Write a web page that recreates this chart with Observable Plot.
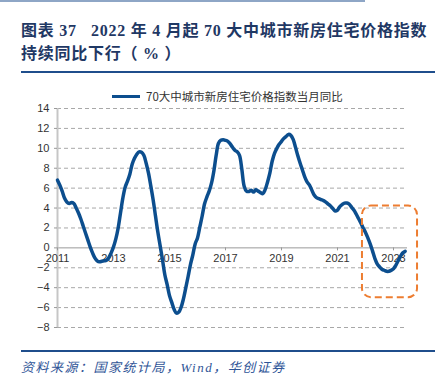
<!DOCTYPE html>
<html><head><meta charset="utf-8">
<script src="https://cdn.jsdelivr.net/npm/d3@7"></script>
<script src="https://cdn.jsdelivr.net/npm/@observablehq/plot@0.6"></script>
<style>
body{margin:0;background:#fff;width:444px;height:390px;position:relative;overflow:hidden;font-family:"Liberation Sans",Arial,sans-serif}
#toprule{position:absolute;left:0;top:0;width:365px;height:2px;background:#8ea6c6}
#title{position:absolute;left:21px;top:19px;width:430px;font-family:"Liberation Serif","Noto Sans CJK SC",serif;font-weight:bold;font-size:16px;line-height:23px;letter-spacing:0.75px;color:#1f3864;white-space:pre}
#rule1{position:absolute;left:21px;top:71px;width:414px;height:2px;background:#1f4e8c}
#legend{position:absolute;left:112px;top:88px;height:16px;display:flex;align-items:center;font-family:"Noto Sans CJK SC",sans-serif;font-size:11.5px;color:#333}
#legend .sw{display:inline-block;width:28px;height:3px;background:#0c4e8e;margin-right:6px}
#chart{position:absolute;left:0;top:100px}
#rule2{position:absolute;left:21px;top:350px;width:414px;height:2px;background:#1f4e8c}
#source{position:absolute;left:21px;top:357px;font-family:"Liberation Serif","Noto Sans CJK SC",serif;font-style:italic;font-size:13px;letter-spacing:1.5px;color:#2f5597;white-space:pre}
</style>
</head><body>
<div id="toprule"></div>
<div id="title"></div>
<div id="rule1"></div>
<div id="legend"></div>
<div id="chart"></div>
<div id="rule2"></div>
<div id="source"></div>
<script>
const titleLines = ["图表 37   2022 年 4 月起 70 大中城市新房住宅价格指数", "持续同比下行（ % ）"];
const seriesName = "70大中城市新房住宅价格指数当月同比";
const sourceText = "资料来源：国家统计局，Wind，华创证券";
const startYear = 2011;
// monthly YoY %, 2011-01 .. 2023-06
const yoy = [
  6.8, 6.3, 5.7, 5.0, 4.6, 4.45, 4.55, 4.45, 4.0, 3.5, 2.9, 2.2,
  1.5, 0.8, 0.1, -0.5, -1.0, -1.3, -1.4, -1.35, -1.3, -1.25, -1.0, -0.5,
  0.1, 0.9, 2.0, 3.5, 5.0, 6.1, 6.7, 7.4, 8.4, 9.0, 9.4, 9.65,
  9.6, 9.3, 8.5, 7.5, 6.2, 4.8, 3.2, 1.6, 0.2, -1.2, -2.7, -3.7,
  -4.8, -5.5, -6.2, -6.55, -6.45, -5.95, -5.1, -4.0, -2.85, -1.65, -0.7, 0.4,
  1.0, 2.1, 3.2, 4.4, 5.1, 5.7, 6.5, 7.7, 9.3, 10.5, 10.8, 10.85,
  10.8, 10.7, 10.45, 10.1, 9.8, 9.65, 9.3, 7.9, 6.2, 5.7, 5.66, 5.8,
  5.6, 5.83, 5.7, 5.55, 5.45, 5.85, 6.6, 7.5, 8.7, 9.5, 10.0, 10.4,
  10.7, 11.0, 11.2, 11.4, 11.3, 10.9, 10.1, 9.25, 8.5, 7.8, 7.1, 6.6,
  6.3, 5.8, 5.3, 5.05, 4.95, 4.85, 4.75, 4.6, 4.4, 4.2, 3.95, 3.7,
  3.8, 4.15, 4.35, 4.5, 4.5, 4.4, 4.1, 3.8, 3.4, 2.95, 2.5, 2.0,
  1.55, 1.0, 0.4, -0.3, -1.05, -1.6, -1.9, -2.15, -2.25, -2.35, -2.35, -2.25,
  -2.1, -1.75, -1.3, -0.85, -0.5, -0.35
];
const yTicks = [-8, -6, -4, -2, 0, 2, 4, 6, 8, 10, 12, 14];
const xTickYears = [2011, 2013, 2015, 2017, 2019, 2021, 2023];

document.getElementById("title").textContent = titleLines.join("\n");
document.getElementById("source").textContent = sourceText;
const lg = document.getElementById("legend");
lg.innerHTML = '<span class="sw"></span><span></span>';
lg.lastChild.textContent = seriesName;

const data = yoy.map((v, i) => ({i, v}));
const xTicks = xTickYears.map(y => ({i: (y - startYear) * 12, label: String(y)}));
const box = [{x1: 130.7, x2: 154.3, y1: -5.0, y2: 4.2}];

const chart = Plot.plot({
  width: 444, height: 240,
  marginLeft: 57, marginRight: 37, marginTop: 8, marginBottom: 13,
  x: {domain: [0, 150], axis: null},
  y: {domain: [-8, 14], axis: null},
  style: {fontFamily: "'Liberation Sans', Arial, sans-serif", fontSize: "11px", color: "#333", background: "transparent", overflow: "visible"},
  marks: [
    Plot.ruleY(yTicks.filter(d => d !== 0), {x1: 0, x2: 150, stroke: "#a8a8a8", strokeDasharray: "4,3"}),
    Plot.ruleY([0], {x1: 0, x2: 150, stroke: "#999"}),
    Plot.ruleX([0], {y1: -8, y2: 14, stroke: "#c6c6c6", strokeWidth: 2}),
    Plot.axisY(yTicks, {tickSize: 3, tickPadding: 5, stroke: "#999", fill: "#333", fontSize: 11}),
    Plot.ruleX(xTicks, {x: "i", y1: 0, y2: -0.3, stroke: "#999"}),
    Plot.text(xTicks, {x: "i", y: 0, text: "label", dy: 11, fill: "#333", fontSize: 11}),
    Plot.line(data, {x: "i", y: "v", stroke: "#0c4e8e", strokeWidth: 3.5, curve: "catmull-rom"}),
    Plot.rect(box, {x1: "x1", x2: "x2", y1: "y1", y2: "y2", fill: "none", stroke: "#ed7d31", strokeWidth: 2, strokeDasharray: "7,4", rx: 9})
  ]
});
document.getElementById("chart").appendChild(chart);
</script>
</body></html>
